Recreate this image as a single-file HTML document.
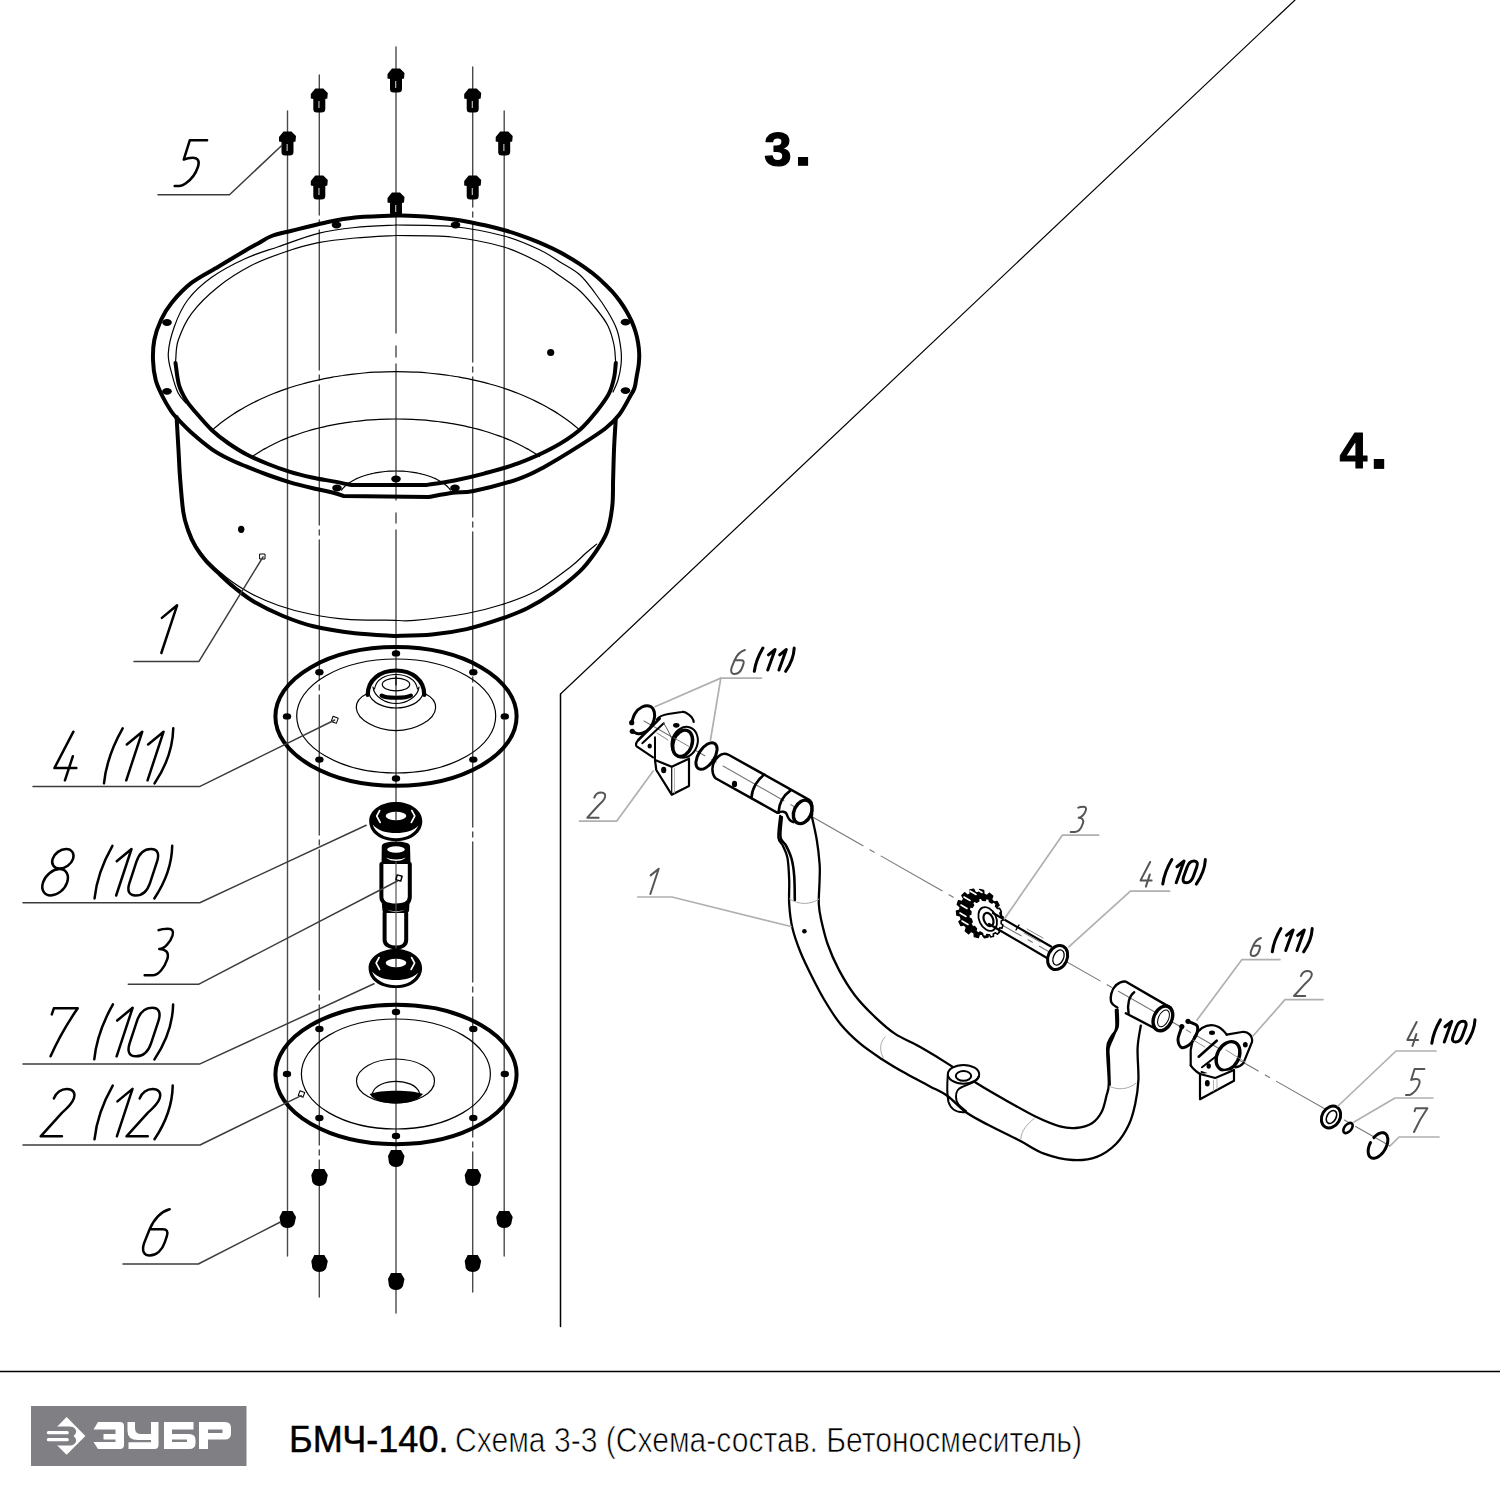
<!DOCTYPE html>
<html><head><meta charset="utf-8"><title>БМЧ-140</title>
<style>html,body{margin:0;padding:0;background:#fff;width:1500px;height:1500px;overflow:hidden}svg{display:block}text{font-family:"Liberation Sans",sans-serif}</style>
</head><body>
<svg width="1500" height="1500" viewBox="0 0 1500 1500" stroke-linejoin="round" stroke-linecap="round">
<rect width="1500" height="1500" fill="#fff"/>
<line x1="396" y1="47" x2="396" y2="333" stroke="#4a4a4a" stroke-width="1.4"/>
<line x1="396" y1="346" x2="396" y2="357" stroke="#4a4a4a" stroke-width="1.4"/>
<line x1="396" y1="364" x2="396" y2="500" stroke="#4a4a4a" stroke-width="1.4"/>
<line x1="396" y1="513" x2="396" y2="523" stroke="#4a4a4a" stroke-width="1.4"/>
<line x1="396" y1="530" x2="396" y2="1313" stroke="#4a4a4a" stroke-width="1.4"/>
<line x1="319.3" y1="75" x2="319.3" y2="1297" stroke="#4a4a4a" stroke-width="1.4" stroke-dasharray="140 5 5 5"/>
<line x1="472.7" y1="67" x2="472.7" y2="1295" stroke="#4a4a4a" stroke-width="1.4" stroke-dasharray="140 5 5 5"/>
<line x1="287.5" y1="111" x2="287.5" y2="1256" stroke="#4a4a4a" stroke-width="1.4"/>
<line x1="504.2" y1="111" x2="504.2" y2="1256" stroke="#4a4a4a" stroke-width="1.4"/>
<path d="M387.5,78.5 L387.5,74 L392,68.5 L400,68.5 L404.5,73 L404,78.5 L402,79 L402,89 Q402,92.5 398,92.5 L393.5,92.5 Q390,92.5 390,89 L390,79 Z" stroke="none" stroke-width="0" fill="#000"/>
<rect x="395" y="81" width="1.3" height="7" fill="#aaa"/>
<path d="M310.8,98.5 L310.8,94 L315.3,88.5 L323.3,88.5 L327.8,93 L327.3,98.5 L325.3,99 L325.3,109 Q325.3,112.5 321.3,112.5 L316.8,112.5 Q313.3,112.5 313.3,109 L313.3,99 Z" stroke="none" stroke-width="0" fill="#000"/>
<rect x="318.3" y="101" width="1.3" height="7" fill="#aaa"/>
<path d="M464.2,98.5 L464.2,94 L468.7,88.5 L476.7,88.5 L481.2,93 L480.7,98.5 L478.7,99 L478.7,109 Q478.7,112.5 474.7,112.5 L470.2,112.5 Q466.7,112.5 466.7,109 L466.7,99 Z" stroke="none" stroke-width="0" fill="#000"/>
<rect x="471.7" y="101" width="1.3" height="7" fill="#aaa"/>
<path d="M279,141.5 L279,137 L283.5,131.5 L291.5,131.5 L296,136 L295.5,141.5 L293.5,142 L293.5,152 Q293.5,155.5 289.5,155.5 L285,155.5 Q281.5,155.5 281.5,152 L281.5,142 Z" stroke="none" stroke-width="0" fill="#000"/>
<rect x="286.5" y="144" width="1.3" height="7" fill="#aaa"/>
<path d="M495.7,141.5 L495.7,137 L500.2,131.5 L508.2,131.5 L512.7,136 L512.2,141.5 L510.2,142 L510.2,152 Q510.2,155.5 506.2,155.5 L501.7,155.5 Q498.2,155.5 498.2,152 L498.2,142 Z" stroke="none" stroke-width="0" fill="#000"/>
<rect x="503.2" y="144" width="1.3" height="7" fill="#aaa"/>
<path d="M310.8,185.5 L310.8,181 L315.3,175.5 L323.3,175.5 L327.8,180 L327.3,185.5 L325.3,186 L325.3,196 Q325.3,199.5 321.3,199.5 L316.8,199.5 Q313.3,199.5 313.3,196 L313.3,186 Z" stroke="none" stroke-width="0" fill="#000"/>
<rect x="318.3" y="188" width="1.3" height="7" fill="#aaa"/>
<path d="M464.2,185.5 L464.2,181 L468.7,175.5 L476.7,175.5 L481.2,180 L480.7,185.5 L478.7,186 L478.7,196 Q478.7,199.5 474.7,199.5 L470.2,199.5 Q466.7,199.5 466.7,196 L466.7,186 Z" stroke="none" stroke-width="0" fill="#000"/>
<rect x="471.7" y="188" width="1.3" height="7" fill="#aaa"/>
<path d="M387.5,202.5 L387.5,198 L392,192.5 L400,192.5 L404.5,197 L404,202.5 L402,203 L402,213 Q402,216.5 398,216.5 L393.5,216.5 Q390,216.5 390,213 L390,203 Z" stroke="none" stroke-width="0" fill="#000"/>
<rect x="395" y="205" width="1.3" height="7" fill="#aaa"/>
<path d="M388,1156 L391,1150 L401,1150 L404.5,1156 L403,1163 Q401,1167 396,1167 Q391,1167 389,1163 Z" stroke="none" stroke-width="0" fill="#000"/>
<path d="M311.3,1175 L314.3,1169 L324.3,1169 L327.8,1175 L326.3,1182 Q324.3,1186 319.3,1186 Q314.3,1186 312.3,1182 Z" stroke="none" stroke-width="0" fill="#000"/>
<path d="M464.7,1175 L467.7,1169 L477.7,1169 L481.2,1175 L479.7,1182 Q477.7,1186 472.7,1186 Q467.7,1186 465.7,1182 Z" stroke="none" stroke-width="0" fill="#000"/>
<path d="M279.5,1217 L282.5,1211 L292.5,1211 L296,1217 L294.5,1224 Q292.5,1228 287.5,1228 Q282.5,1228 280.5,1224 Z" stroke="none" stroke-width="0" fill="#000"/>
<path d="M496.2,1217 L499.2,1211 L509.2,1211 L512.7,1217 L511.2,1224 Q509.2,1228 504.2,1228 Q499.2,1228 497.2,1224 Z" stroke="none" stroke-width="0" fill="#000"/>
<path d="M311.3,1261 L314.3,1255 L324.3,1255 L327.8,1261 L326.3,1268 Q324.3,1272 319.3,1272 Q314.3,1272 312.3,1268 Z" stroke="none" stroke-width="0" fill="#000"/>
<path d="M464.7,1261 L467.7,1255 L477.7,1255 L481.2,1261 L479.7,1268 Q477.7,1272 472.7,1272 Q467.7,1272 465.7,1268 Z" stroke="none" stroke-width="0" fill="#000"/>
<path d="M388,1279 L391,1273 L401,1273 L404.5,1279 L403,1286 Q401,1290 396,1290 Q391,1290 389,1286 Z" stroke="none" stroke-width="0" fill="#000"/>
<path d="M396,215.5C389.2,215.8 366.8,216.3 355,217.5C343.2,218.7 335.6,220.5 325,222.7C314.4,224.9 300.6,228.5 291.7,230.7C282.8,232.9 277.3,233.9 271.7,236C266.1,238.1 262.4,241.1 258,243.5C253.6,245.9 251.6,246.8 245,250.7C238.4,254.6 227.2,261.4 218.3,266.7C209.4,272 199.5,276.7 191.7,282.7C183.9,288.7 176.8,296.5 171.7,302.7C166.6,308.9 163.9,313.8 161,320C158.1,326.2 155.6,333.3 154.3,340C153,346.7 152.8,353.3 153,360C153.2,366.7 154.1,374 155.7,380C157.2,386 159.8,390.8 162.3,396C164.9,401.2 168.5,407.2 171,411C173.5,414.8 173.6,414.7 177.3,418.5C181,422.3 187.2,428.9 193,434C198.8,439.1 206,445.1 212,449.3C218,453.5 223.2,456.1 229,459C234.8,461.9 240.2,464 246.7,466.7C253.2,469.4 260.8,472.4 268,475C275.2,477.6 282.7,480.1 290,482.3C297.3,484.5 304.8,486.3 312,488C319.2,489.7 328,491.3 333.3,492.7C338.6,494.1 342,495.5 343.7,496.1 L428.5,497 C432.6,496.3 445.3,493.7 452.8,492.7C460.3,491.7 462.6,493.3 473.6,491C484.6,488.7 506.9,482.9 518.7,478.8C530.6,474.8 534.6,472.2 544.7,466.7C554.8,461.2 569.2,452.3 579.3,445.9C589.4,439.5 598.6,433.7 605.3,428.5C611.9,423.3 615.2,419.9 619.2,414.7C623.2,409.5 627.1,401.8 629.6,397.3C632.1,392.9 633.3,391.6 634.5,388C635.7,384.4 636.1,379.4 636.8,375.6C637.5,371.7 638.3,368.3 638.7,364.7C639.1,361.1 639.3,357.4 639.2,353.8C639.1,350.1 638.7,346.5 638.1,342.9C637.5,339.2 636.7,335.6 635.6,332C634.6,328.5 633.2,324.9 631.7,321.4C630.1,317.8 628.3,314.3 626.3,310.9C624.3,307.4 622,304 619.6,300.7C617.1,297.3 614.4,294.1 611.5,290.8C608.5,287.6 605.4,284.4 602,281.4C598.7,278.3 595.1,275.3 591.4,272.3C587.6,269.4 583.7,266.6 579.5,263.8C575.4,261.1 571.1,258.4 566.6,255.9C562.1,253.3 557.4,250.9 552.6,248.5C547.8,246.2 542.8,243.9 537.7,241.8C532.6,239.7 527.3,237.7 521.9,235.8C516.5,233.9 511,232.1 505.4,230.5C499.8,228.9 494,227.4 488.2,226C482.4,224.6 476.4,223.4 470.4,222.2C464.4,221.1 458.3,220.1 452.2,219.3C446.1,218.5 439.9,217.8 433.7,217.2C427.4,216.6 421.2,216.2 414.9,215.9C408.6,215.6 399.1,215.6 396,215.5" stroke="#000" stroke-width="4" fill="none"/>
<path d="M396,225C389.2,225.4 367.9,226.1 355,227.5C342.1,228.9 331.1,230.1 318.3,233.3C305.5,236.5 290.5,242.5 278.3,246.7C266.1,250.9 256.1,253.6 245,258.7C233.9,263.8 221.2,270.4 211.7,277.3C202.1,284.2 193.9,291.8 187.7,300C181.5,308.2 177.5,317.8 174.3,326.7C171.1,335.6 168.7,345.5 168.3,353.3C167.9,361.1 170,366.6 171.7,373.3C173.4,380 175.9,388.4 178.3,393.3C180.7,398.2 184.7,401.4 186,403" stroke="#000" stroke-width="1.2" fill="none"/>
<path d="M396,225C405.3,225.2 434,224.7 452,226.5C470,228.3 489.3,232.1 504,236C518.7,239.9 530.7,245.7 540,250C549.3,254.3 553.3,257.8 560,262C566.7,266.2 574.2,269.8 580,275C585.8,280.2 590.3,286.8 595,293C599.7,299.2 604.3,305.8 608,312C611.7,318.2 614.8,323.7 617,330C619.2,336.3 620.3,344.2 621,350C621.7,355.8 621.5,360 621,365C620.5,370 619.3,375.5 618,380C616.7,384.5 613.8,390 613,392" stroke="#000" stroke-width="1.2" fill="none"/>
<path d="M396,235.5C389.2,235.9 367.9,236.8 355,238C342.1,239.2 330,240.4 318.3,242.7C306.6,245 296.1,248.2 285,252C273.9,255.8 262.8,259.5 251.7,265.3C240.6,271.1 228.3,278.7 218.3,286.7C208.3,294.7 198.4,304.4 191.7,313.3C185,322.2 181,332.2 178.3,340C175.6,347.8 176.2,356.2 175.7,360C175.2,363.8 175.5,362.5 175.5,363" stroke="#000" stroke-width="1.2" fill="none"/>
<path d="M396,235.5C405.3,235.8 434,235.1 452,237C470,238.9 489.3,242.7 504,247C518.7,251.3 530.7,258.2 540,263C549.3,267.8 553.3,271.3 560,276C566.7,280.7 573.8,285.3 580,291C586.2,296.7 592.3,304.2 597,310C601.7,315.8 605.2,320.2 608,326C610.8,331.8 612.8,339.3 614,345C615.2,350.7 615.2,357 615.5,360C615.8,363 615.8,362.5 615.8,363" stroke="#000" stroke-width="1.2" fill="none"/>
<path d="M175.5,363C176.1,366.7 177.2,378.8 179,385C180.8,391.2 183.4,395.6 186,400C188.6,404.4 190.4,406.1 194.7,411.2C199,416.2 206.4,425 212,430.3C217.6,435.6 222.2,439 228,443C233.8,447 240,451 246.7,454.5C253.4,458 260.8,461.1 268,464C275.2,466.9 282.7,469.6 290,471.9C297.3,474.1 304.8,475.9 312,477.5C319.2,479.1 326.9,480.2 333.3,481.4C339.8,482.6 347.8,484.3 350.7,484.9 L426.8,484.9 C431.4,484.2 445,482.4 454.5,480.5C464,478.6 473.3,476.5 484,473.6C494.7,470.7 507.2,467.5 518.7,463.2C530.2,458.9 543.2,453.1 553.3,447.6C563.4,442.1 572.1,436.4 579.3,430.3C586.5,424.2 591.8,417.3 596.7,411.2C601.6,405.1 605.9,399.4 608.8,393.9C611.7,388.4 612.8,383.2 614,378C615.2,372.8 615.5,365.4 615.8,362.9" stroke="#000" stroke-width="4" fill="none"/>
<path d="M213.6,428.9C214.6,428 217.7,425.4 219.8,423.7C222,422 224.2,420.4 226.5,418.7C228.8,417.1 231.1,415.5 233.5,413.9C236,412.4 238.4,410.8 241,409.4C243.5,407.9 246.1,406.4 248.8,405C251.5,403.6 254.2,402.2 257,400.9C259.7,399.5 262.6,398.2 265.4,397C268.3,395.7 271.3,394.5 274.3,393.3C277.2,392.1 280.3,391 283.4,389.9C286.4,388.9 289.6,387.8 292.7,386.8C295.9,385.8 299.1,384.9 302.3,384C305.6,383.1 308.9,382.2 312.2,381.4C315.5,380.6 318.8,379.8 322.2,379.1C325.6,378.4 329,377.8 332.4,377.1C335.8,376.5 339.3,376 342.8,375.5C346.3,374.9 349.8,374.5 353.3,374.1C356.8,373.7 360.3,373.3 363.9,373C367.4,372.7 371,372.4 374.5,372.2C378.1,372 381.7,371.9 385.3,371.8C388.8,371.7 392.4,371.6 396,371.6C399.6,371.6 403.2,371.7 406.7,371.8C410.3,371.9 413.9,372 417.5,372.2C421,372.4 424.6,372.7 428.1,373C431.7,373.3 435.2,373.7 438.7,374.1C442.2,374.5 445.7,374.9 449.2,375.5C452.7,376 456.2,376.5 459.6,377.1C463,377.8 466.4,378.4 469.8,379.1C473.2,379.8 476.5,380.6 479.8,381.4C483.1,382.2 486.4,383.1 489.7,384C492.9,384.9 496.1,385.8 499.3,386.8C502.4,387.8 505.6,388.9 508.6,389.9C511.7,391 514.8,392.1 517.7,393.3C520.7,394.5 523.7,395.7 526.6,397C529.4,398.2 532.3,399.5 535,400.9C537.8,402.2 540.5,403.6 543.2,405C545.9,406.4 548.5,407.9 551,409.4C553.6,410.8 556,412.4 558.5,413.9C560.9,415.5 563.2,417.1 565.5,418.7C567.8,420.4 570,422 572.2,423.7C574.3,425.4 577.4,428 578.4,428.9" stroke="#000" stroke-width="1.2" fill="none"/>
<path d="M252.6,456.5C253.5,456 255.9,454.2 257.6,453.1C259.3,452 261.1,450.9 262.9,449.8C264.7,448.8 266.6,447.7 268.5,446.7C270.5,445.7 272.4,444.7 274.4,443.7C276.4,442.7 278.5,441.8 280.6,440.8C282.7,439.9 284.9,439 287.1,438.1C289.3,437.3 291.5,436.4 293.8,435.6C296,434.8 298.3,434 300.7,433.2C303,432.4 305.4,431.7 307.8,431C310.3,430.3 312.7,429.6 315.2,428.9C317.7,428.3 320.2,427.7 322.7,427.1C325.3,426.5 327.8,425.9 330.4,425.4C333,424.9 335.7,424.4 338.3,423.9C340.9,423.5 343.6,423 346.3,422.6C349,422.2 351.7,421.9 354.4,421.5C357.1,421.2 359.9,420.9 362.6,420.6C365.4,420.3 368.1,420.1 370.9,419.9C373.7,419.7 376.4,419.5 379.2,419.4C382,419.3 384.8,419.2 387.6,419.1C390.4,419 393.2,419 396,419C398.8,419 401.6,419 404.4,419.1C407.2,419.2 410,419.3 412.8,419.4C415.6,419.5 418.3,419.7 421.1,419.9C423.9,420.1 426.6,420.3 429.4,420.6C432.1,420.9 434.9,421.2 437.6,421.5C440.3,421.9 443,422.2 445.7,422.6C448.4,423 451.1,423.5 453.7,423.9C456.3,424.4 459,424.9 461.6,425.4C464.2,425.9 466.7,426.5 469.3,427.1C471.8,427.7 474.3,428.3 476.8,428.9C479.3,429.6 481.7,430.3 484.2,431C486.6,431.7 489,432.4 491.3,433.2C493.7,434 496,434.8 498.2,435.6C500.5,436.4 502.7,437.3 504.9,438.1C507.1,439 509.3,439.9 511.4,440.8C513.5,441.8 515.6,442.7 517.6,443.7C519.6,444.7 521.5,445.7 523.5,446.7C525.4,447.7 527.3,448.8 529.1,449.8C530.9,450.9 532.7,452 534.4,453.1C536.1,454.2 538.5,456 539.4,456.5" stroke="#000" stroke-width="1.2" fill="none"/>
<path d="M341.5,490.1C341.7,489.8 342.3,489 342.8,488.4C343.3,487.9 343.8,487.4 344.3,486.8C344.9,486.3 345.4,485.8 346,485.3C346.6,484.8 347.3,484.3 347.9,483.8C348.6,483.3 349.3,482.8 350,482.3C350.7,481.9 351.5,481.4 352.2,481C353,480.5 353.8,480.1 354.6,479.7C355.5,479.3 356.3,478.8 357.2,478.4C358.1,478.1 359,477.7 359.9,477.3C360.8,476.9 361.8,476.6 362.7,476.2C363.7,475.9 364.7,475.6 365.7,475.3C366.7,475 367.7,474.7 368.8,474.4C369.8,474.1 370.9,473.9 371.9,473.6C373,473.4 374.1,473.1 375.2,472.9C376.3,472.7 377.4,472.5 378.6,472.3C379.7,472.2 380.8,472 382,471.9C383.1,471.7 384.3,471.6 385.4,471.5C386.6,471.4 387.8,471.3 388.9,471.2C390.1,471.1 391.3,471.1 392.5,471.1C393.6,471 394.8,471 396,471C397.2,471 398.4,471 399.5,471.1C400.7,471.1 401.9,471.1 403.1,471.2C404.2,471.3 405.4,471.4 406.6,471.5C407.7,471.6 408.9,471.7 410,471.9C411.2,472 412.3,472.2 413.4,472.3C414.6,472.5 415.7,472.7 416.8,472.9C417.9,473.1 419,473.4 420.1,473.6C421.1,473.9 422.2,474.1 423.2,474.4C424.3,474.7 425.3,475 426.3,475.3C427.3,475.6 428.3,475.9 429.3,476.2C430.2,476.6 431.2,476.9 432.1,477.3C433,477.7 433.9,478.1 434.8,478.4C435.7,478.8 436.5,479.3 437.4,479.7C438.2,480.1 439,480.5 439.8,481C440.5,481.4 441.3,481.9 442,482.3C442.7,482.8 443.4,483.3 444.1,483.8C444.7,484.3 445.4,484.8 446,485.3C446.6,485.8 447.1,486.3 447.7,486.8C448.2,487.4 448.7,487.9 449.2,488.4C449.7,489 450.3,489.8 450.5,490.1" stroke="#000" stroke-width="1.2" fill="none"/>
<path d="M176.6,417C176.9,422.5 177.9,440 178.5,450C179.1,460 179.2,466.7 180,477C180.8,487.3 182,503.2 183.3,512C184.6,520.8 186,524.2 188,530C190,535.8 192.5,541.4 195.5,546.6C198.5,551.8 202,556.4 206,561C210,565.6 214.9,569.8 219.7,574.3C224.5,578.8 229.2,583.4 235,588C240.8,592.6 246.4,597.3 254.4,602C262.4,606.7 273.2,612 283,616C292.8,620 301.3,623.4 313.3,626.3C325.3,629.2 341.1,631.7 354.9,633.3C368.7,634.9 389.1,635.5 396,636 C402,635.8 420.2,635.6 432,634.5C443.8,633.4 455.1,631.7 466.7,629.1C478.2,626.5 491.2,622.2 501.3,618.7C511.4,615.2 518.6,612.6 527.3,608.3C536,604 544.6,598.8 553.3,592.7C562,586.6 572.3,578.5 579.3,571.9C586.2,565.2 590.4,559.4 595,552.8C599.6,546.1 604.1,539.8 607,532C609.9,524.2 611.3,514.7 612.3,506C613.3,497.3 612.8,489.3 613.1,480C613.4,470.7 613.6,460 614,450C614.4,440 615.4,424.9 615.7,419.9" stroke="#000" stroke-width="4" fill="none"/>
<path d="M192,539.7C194.5,543.1 201.2,553.6 207,560C212.8,566.4 219.5,572.3 226.7,577.8C233.9,583.3 241.3,588.4 250,593C258.6,597.6 268.6,602 278.6,605.5C288.6,609 298.4,611.7 310,614C321.6,616.3 333.7,618.4 348,619.4C362.3,620.4 388,620.1 396,620.3 C399.1,620.3 402.9,621.5 414.7,620.4C426.5,619.3 452.3,616.1 466.7,613.5C481.1,610.9 489.8,608.5 501.3,604.8C512.9,601 524.4,597.4 536,591C547.6,584.6 562.4,573 570.7,566.7C579,560.4 581.7,556.8 586,553C590.3,549.2 594.9,545.6 596.7,544.1" stroke="#000" stroke-width="1.2" fill="none"/>
<ellipse cx="336.5" cy="225" rx="4.8" ry="3.4" stroke="none" stroke-width="0" fill="#000"/>
<ellipse cx="455.5" cy="225" rx="4.8" ry="3.4" stroke="none" stroke-width="0" fill="#000"/>
<ellipse cx="167" cy="322.5" rx="4.8" ry="3.4" stroke="none" stroke-width="0" fill="#000"/>
<ellipse cx="625.5" cy="322.2" rx="4.8" ry="3.4" stroke="none" stroke-width="0" fill="#000"/>
<ellipse cx="167" cy="391.3" rx="4.8" ry="3.4" stroke="none" stroke-width="0" fill="#000"/>
<ellipse cx="625.5" cy="390.6" rx="4.8" ry="3.4" stroke="none" stroke-width="0" fill="#000"/>
<ellipse cx="337" cy="488" rx="4.8" ry="3.4" stroke="none" stroke-width="0" fill="#000"/>
<ellipse cx="455" cy="488" rx="4.8" ry="3.4" stroke="none" stroke-width="0" fill="#000"/>
<ellipse cx="396" cy="479" rx="4.8" ry="3.4" stroke="none" stroke-width="0" fill="#000"/>
<ellipse cx="550.7" cy="352.5" rx="3.6" ry="3.6" stroke="none" stroke-width="0" fill="#000"/>
<ellipse cx="241.2" cy="529.3" rx="3.2" ry="3.6" stroke="none" stroke-width="0" fill="#000"/>
<rect x="260" y="554" width="5" height="5" fill="none" stroke="#000" stroke-width="1"/>
<ellipse cx="396" cy="716.4" rx="120.6" ry="69.3" stroke="#000" stroke-width="4" fill="none"/>
<ellipse cx="396.2" cy="716" rx="99.5" ry="57" stroke="#000" stroke-width="1.2" fill="none"/>
<ellipse cx="396" cy="653.4" rx="4.2" ry="3.2" stroke="none" stroke-width="0" fill="#000"/>
<ellipse cx="319.4" cy="672.3" rx="4.2" ry="3.2" stroke="none" stroke-width="0" fill="#000"/>
<ellipse cx="473.3" cy="672.3" rx="4.2" ry="3.2" stroke="none" stroke-width="0" fill="#000"/>
<ellipse cx="287" cy="716.4" rx="4.2" ry="3.2" stroke="none" stroke-width="0" fill="#000"/>
<ellipse cx="504.8" cy="716.4" rx="4.2" ry="3.2" stroke="none" stroke-width="0" fill="#000"/>
<ellipse cx="319.4" cy="759.6" rx="4.2" ry="3.2" stroke="none" stroke-width="0" fill="#000"/>
<ellipse cx="473.3" cy="759.6" rx="4.2" ry="3.2" stroke="none" stroke-width="0" fill="#000"/>
<ellipse cx="396" cy="778.5" rx="4.2" ry="3.2" stroke="none" stroke-width="0" fill="#000"/>
<path d="M367.7,693.3 C360,697 356,702 356.3,708 C357,720 377,730.7 396,730.7 C415,730.7 435,720 435.6,708 C436,702 432,697 424.3,693.3" stroke="#000" stroke-width="1.2" fill="none"/>
<path d="M369,694 C372,703 384,708 396,708 C408,708 420,703 423,694" stroke="#000" stroke-width="1.2" fill="none"/>
<path d="M373,687 C374,697 386,703.5 396,703.5 C406,703.5 418,697 419,687" stroke="#000" stroke-width="1.2" fill="none"/>
<path d="M374.5,689 C376,679 386,674.5 396,674.5 C406,674.5 416,679 417.5,689" stroke="#000" stroke-width="1.2" fill="none"/>
<ellipse cx="396" cy="684.5" rx="13.7" ry="6.3" stroke="#000" stroke-width="1.2" fill="none"/>
<path d="M367.7,695 C367.7,680 380,670.5 396,670.5 C412,670.5 424.3,680 424.3,695" stroke="#000" stroke-width="4.2" fill="none"/>
<path d="M381.5,695.5 C386,698.5 406,698.5 411,695.5" stroke="#000" stroke-width="4" fill="none"/>
<line x1="396" y1="676" x2="396" y2="685" stroke="#000" stroke-width="1.2"/>
<rect x="332" y="717" width="5.5" height="5.5" fill="none" stroke="#000" stroke-width="1" transform="rotate(20 334.7 719.7)"/>
<path d="M369.2,821 C369.2,810 381.2,802 396,802 C410,802 422.3,810 422.3,821 C422.3,827 419.3,832 415.3,835 C410.3,839 404,841 396,841 C388,841 381.2,839 376.2,835 C372.2,832 369.2,827 369.2,821 Z" stroke="none" stroke-width="0" fill="#000"/>
<path d="M372.7,824.5 C378.2,831 386,833 396,833 C406,833 413.3,831 418.3,825.5 C415.3,833 407,838.3 396,838.3 C385,838.3 375.2,833 372.7,824.5 Z" stroke="none" stroke-width="0" fill="#fff"/>
<ellipse cx="396" cy="816" rx="10.3" ry="4.2" stroke="none" stroke-width="0" fill="#fff"/>
<path d="M379.7,810.5 L376.7,816 L380.2,822.5" stroke="#fff" stroke-width="1.6" fill="none"/>
<path d="M411.8,810.5 L414.8,816 L411.3,822.5" stroke="#fff" stroke-width="1.6" fill="none"/>
<line x1="396" y1="812" x2="396" y2="820" stroke="#000" stroke-width="1"/>
<path d="M381.8,846 C381.8,843 388,841.5 396,841.5 C404,841.5 410,843 410,846 L410.5,864 C410.5,867 404,868 396,868 C388,868 381.5,867 381.5,864 Z" stroke="none" stroke-width="0" fill="#000"/>
<ellipse cx="396" cy="849.5" rx="8.8" ry="3.2" stroke="none" stroke-width="0" fill="#fff"/>
<path d="M386.5,857.5 C390,860 402,860 405.5,857.5 C403,862 389,862 386.5,857.5 Z" stroke="none" stroke-width="0" fill="#fff"/>
<path d="M381.4,864 L381.4,897 C381.4,903 388,905.5 396,905.5 C404,905.5 409.8,903 409.8,897 L409.8,864" stroke="#000" stroke-width="4" fill="#fff"/>
<path d="M381.8,903 L382.5,911 C383,913.5 389,914.5 396,914.5 C403,914.5 408.5,913.5 409,911 L409.5,903 C405,907 387,907 381.8,903 Z" stroke="none" stroke-width="0" fill="#000"/>
<path d="M387,909.5 C391,911.5 401,911.5 405,909.5 C401,912.5 391,912.5 387,909.5 Z" stroke="none" stroke-width="0" fill="#fff"/>
<path d="M384.6,913 L384.6,940 C384.6,945 390,947.5 396,947.5 C402,947.5 406.2,945 406.2,940 L406.2,913" stroke="#000" stroke-width="4" fill="#fff"/>
<line x1="396" y1="862" x2="396" y2="948" stroke="#555" stroke-width="1.2"/>
<rect x="396.5" y="875.5" width="5" height="5" fill="none" stroke="#000" stroke-width="1.5" transform="rotate(15 399 878)"/>
<path d="M368.6,968 C368.6,957 380.6,949 396,949 C410,949 422.1,957 422.1,968 C422.1,974 419.1,979 415.1,982 C410.1,986 404,988 396,988 C388,988 380.6,986 375.6,982 C371.6,979 368.6,974 368.6,968 Z" stroke="none" stroke-width="0" fill="#000"/>
<path d="M372.1,971.5 C377.6,978 386,980 396,980 C406,980 413.1,978 418.1,972.5 C415.1,980 407,985.3 396,985.3 C385,985.3 374.6,980 372.1,971.5 Z" stroke="none" stroke-width="0" fill="#fff"/>
<ellipse cx="396" cy="963" rx="10.3" ry="4.2" stroke="none" stroke-width="0" fill="#fff"/>
<path d="M379.1,957.5 L376.1,963 L379.6,969.5" stroke="#fff" stroke-width="1.6" fill="none"/>
<path d="M411.6,957.5 L414.6,963 L411.1,969.5" stroke="#fff" stroke-width="1.6" fill="none"/>
<line x1="396" y1="959" x2="396" y2="967" stroke="#000" stroke-width="1"/>
<ellipse cx="396" cy="1074.5" rx="120.6" ry="69.7" stroke="#000" stroke-width="4" fill="none"/>
<ellipse cx="395.9" cy="1074" rx="94.5" ry="55" stroke="#000" stroke-width="1.2" fill="none"/>
<ellipse cx="396" cy="1012" rx="4.2" ry="3.2" stroke="none" stroke-width="0" fill="#000"/>
<ellipse cx="319.4" cy="1029" rx="4.2" ry="3.2" stroke="none" stroke-width="0" fill="#000"/>
<ellipse cx="473.3" cy="1029" rx="4.2" ry="3.2" stroke="none" stroke-width="0" fill="#000"/>
<ellipse cx="287" cy="1074" rx="4.2" ry="3.2" stroke="none" stroke-width="0" fill="#000"/>
<ellipse cx="504.8" cy="1074" rx="4.2" ry="3.2" stroke="none" stroke-width="0" fill="#000"/>
<ellipse cx="319.4" cy="1118" rx="4.2" ry="3.2" stroke="none" stroke-width="0" fill="#000"/>
<ellipse cx="473.3" cy="1118" rx="4.2" ry="3.2" stroke="none" stroke-width="0" fill="#000"/>
<ellipse cx="396" cy="1136" rx="4.2" ry="3.2" stroke="none" stroke-width="0" fill="#000"/>
<ellipse cx="395.5" cy="1081" rx="39" ry="22" stroke="#000" stroke-width="1.2" fill="none"/>
<path d="M372.3,1093.3 C375,1085 386,1081.3 396,1081.3 C406,1081.3 417,1085 419.5,1093" stroke="#000" stroke-width="1.2" fill="none"/>
<path d="M369.7,1094 C380,1089.5 412,1089.5 423,1094 L420,1097 C414,1102 404,1103.5 396,1103.5 C388,1103.5 378,1102 372,1097 Z" stroke="none" stroke-width="0" fill="#000"/>
<rect x="299" y="1091.5" width="5" height="5" fill="none" stroke="#000" stroke-width="1" transform="rotate(20 301.5 1094)"/>
<path d="M158,194.7 L229.5,194.7 L282,145.3" stroke="#3c3c3c" stroke-width="1.5" fill="none"/>
<path d="M134,661.6 L198.8,661.6 L263,557" stroke="#3c3c3c" stroke-width="1.5" fill="none"/>
<path d="M33,786.4 L200,786.4 L334.7,720" stroke="#3c3c3c" stroke-width="1.5" fill="none"/>
<path d="M23,902.7 L199.8,902.7 L366.2,825.2" stroke="#3c3c3c" stroke-width="1.5" fill="none"/>
<path d="M128.3,984.3 L198.5,984.3 L397.4,881" stroke="#3c3c3c" stroke-width="1.5" fill="none"/>
<path d="M23,1063.9 L200,1063.9 L374,983.8" stroke="#3c3c3c" stroke-width="1.5" fill="none"/>
<path d="M23,1145 L200,1145 L301.2,1095.6" stroke="#3c3c3c" stroke-width="1.5" fill="none"/>
<path d="M123,1264 L198.3,1264 L280.4,1222" stroke="#3c3c3c" stroke-width="1.5" fill="none"/>
<path d="M18,0 L0,0 L0.3,20 C3,18.7 6,18.2 9,18.2 C14.5,18.2 17.6,21.5 17.6,27.5 C17.6,35.5 15,41 10.5,45 C9,46.5 7,47.5 5,47.5 L0,47.5" transform="matrix(0.9621 0 -0.3175 0.9621 189.78 140.30)" stroke="#000" stroke-width="2.5" fill="none" stroke-linecap="round" stroke-linejoin="round" vector-effect="non-scaling-stroke"/>
<path d="M0,12.5 L11,0 L11,47.5" transform="matrix(1.0042 0 -0.3314 1.0042 166.04 605.30)" stroke="#000" stroke-width="2.5" fill="none" stroke-linecap="round" stroke-linejoin="round" vector-effect="non-scaling-stroke"/>
<path d="M6.8,0 L0,35.5 L21.4,35.5 M14.2,24 L14.2,47.5" transform="matrix(1.0232 0 -0.3376 1.0232 66.44 731.70)" stroke="#000" stroke-width="2.5" fill="none" stroke-linecap="round" stroke-linejoin="round" vector-effect="non-scaling-stroke"/>
<path d="M0,-3.3 Q-6.5,24 -0.5,50.5" transform="matrix(1.0232 0 -0.3376 1.0232 121.54 731.70)" stroke="#000" stroke-width="2.5" fill="none" stroke-linecap="round" stroke-linejoin="round" vector-effect="non-scaling-stroke"/>
<path d="M0,12.5 L11,0 L11,47.5" transform="matrix(1.0232 0 -0.3376 1.0232 131.04 731.70)" stroke="#000" stroke-width="2.5" fill="none" stroke-linecap="round" stroke-linejoin="round" vector-effect="non-scaling-stroke"/>
<path d="M0,12.5 L11,0 L11,47.5" transform="matrix(1.0232 0 -0.3376 1.0232 152.34 731.70)" stroke="#000" stroke-width="2.5" fill="none" stroke-linecap="round" stroke-linejoin="round" vector-effect="non-scaling-stroke"/>
<path d="M0,-3.3 Q8.5,24 -0.5,50.5" transform="matrix(1.0232 0 -0.3376 1.0232 172.14 731.70)" stroke="#000" stroke-width="2.5" fill="none" stroke-linecap="round" stroke-linejoin="round" vector-effect="non-scaling-stroke"/>
<path d="M12.3,0 C18,0 22.7,4.5 22.7,10 C22.7,15.5 18,20 12.3,20 C6.6,20 1.9,15.5 1.9,10 C1.9,4.5 6.6,0 12.3,0 Z M12.3,20.5 C19,20.5 24.6,26.5 24.6,34 C24.6,41.5 19,47.5 12.3,47.5 C5.6,47.5 0,41.5 0,34 C0,26.5 5.6,20.5 12.3,20.5 Z" transform="matrix(0.9789 0 -0.3231 0.9789 54.05 849.00)" stroke="#000" stroke-width="2.5" fill="none" stroke-linecap="round" stroke-linejoin="round" vector-effect="non-scaling-stroke"/>
<path d="M0,-3.3 Q-6.5,24 -0.5,50.5" transform="matrix(0.9789 0 -0.3231 0.9789 111.34 849.00)" stroke="#000" stroke-width="2.5" fill="none" stroke-linecap="round" stroke-linejoin="round" vector-effect="non-scaling-stroke"/>
<path d="M0,12.5 L11,0 L11,47.5" transform="matrix(0.9789 0 -0.3231 0.9789 120.75 849.00)" stroke="#000" stroke-width="2.5" fill="none" stroke-linecap="round" stroke-linejoin="round" vector-effect="non-scaling-stroke"/>
<path d="M10.5,0 C17.5,0 21,5 21,13 L21,34.5 C21,42.5 17.5,47.5 10.5,47.5 C3.5,47.5 0,42.5 0,34.5 L0,13 C0,5 3.5,0 10.5,0 Z" transform="matrix(0.9789 0 -0.3231 0.9789 140.65 849.00)" stroke="#000" stroke-width="2.5" fill="none" stroke-linecap="round" stroke-linejoin="round" vector-effect="non-scaling-stroke"/>
<path d="M0,-3.3 Q8.5,24 -0.5,50.5" transform="matrix(0.9789 0 -0.3231 0.9789 171.15 849.00)" stroke="#000" stroke-width="2.5" fill="none" stroke-linecap="round" stroke-linejoin="round" vector-effect="non-scaling-stroke"/>
<path d="M0,1.5 C2,0.5 5,0 8.9,0 C13.5,0 16,2.5 16,7 C16,14 12,20.6 7,20.6 C13,20.6 18.6,24 18.6,31 C18.6,40 15,47.5 9,47.5 L1,47.5" transform="matrix(0.9811 0 -0.3237 0.9811 159.08 928.70)" stroke="#000" stroke-width="2.5" fill="none" stroke-linecap="round" stroke-linejoin="round" vector-effect="non-scaling-stroke"/>
<path d="M0.3,6.5 L0.3,0.5 L23.7,0.5 C18,16 14.5,31 12.6,47.5" transform="matrix(1.0211 0 -0.3369 1.0211 53.70 1007.80)" stroke="#000" stroke-width="2.5" fill="none" stroke-linecap="round" stroke-linejoin="round" vector-effect="non-scaling-stroke"/>
<path d="M0,-3.3 Q-6.5,24 -0.5,50.5" transform="matrix(1.0211 0 -0.3369 1.0211 111.80 1007.80)" stroke="#000" stroke-width="2.5" fill="none" stroke-linecap="round" stroke-linejoin="round" vector-effect="non-scaling-stroke"/>
<path d="M0,12.5 L11,0 L11,47.5" transform="matrix(1.0211 0 -0.3369 1.0211 121.41 1007.80)" stroke="#000" stroke-width="2.5" fill="none" stroke-linecap="round" stroke-linejoin="round" vector-effect="non-scaling-stroke"/>
<path d="M10.5,0 C17.5,0 21,5 21,13 L21,34.5 C21,42.5 17.5,47.5 10.5,47.5 C3.5,47.5 0,42.5 0,34.5 L0,13 C0,5 3.5,0 10.5,0 Z" transform="matrix(1.0211 0 -0.3369 1.0211 141.31 1007.80)" stroke="#000" stroke-width="2.5" fill="none" stroke-linecap="round" stroke-linejoin="round" vector-effect="non-scaling-stroke"/>
<path d="M0,-3.3 Q8.5,24 -0.5,50.5" transform="matrix(1.0211 0 -0.3369 1.0211 172.00 1007.80)" stroke="#000" stroke-width="2.5" fill="none" stroke-linecap="round" stroke-linejoin="round" vector-effect="non-scaling-stroke"/>
<path d="M0.7,9.6 C0.7,3.5 5,0 10.5,0 C16.5,0 20.7,3.8 20.7,9.5 C20.7,14.5 18,18.5 13.5,24 L0,47.5 L21.3,47.5" transform="matrix(0.9979 0 -0.3293 0.9979 56.34 1088.90)" stroke="#000" stroke-width="2.5" fill="none" stroke-linecap="round" stroke-linejoin="round" vector-effect="non-scaling-stroke"/>
<path d="M0,-3.3 Q-6.5,24 -0.5,50.5" transform="matrix(0.9979 0 -0.3293 0.9979 111.64 1088.90)" stroke="#000" stroke-width="2.5" fill="none" stroke-linecap="round" stroke-linejoin="round" vector-effect="non-scaling-stroke"/>
<path d="M0,12.5 L11,0 L11,47.5" transform="matrix(0.9979 0 -0.3293 0.9979 121.54 1088.90)" stroke="#000" stroke-width="2.5" fill="none" stroke-linecap="round" stroke-linejoin="round" vector-effect="non-scaling-stroke"/>
<path d="M0.7,9.6 C0.7,3.5 5,0 10.5,0 C16.5,0 20.7,3.8 20.7,9.5 C20.7,14.5 18,18.5 13.5,24 L0,47.5 L21.3,47.5" transform="matrix(0.9979 0 -0.3293 0.9979 142.14 1088.90)" stroke="#000" stroke-width="2.5" fill="none" stroke-linecap="round" stroke-linejoin="round" vector-effect="non-scaling-stroke"/>
<path d="M0,-3.3 Q8.5,24 -0.5,50.5" transform="matrix(0.9979 0 -0.3293 0.9979 171.64 1088.90)" stroke="#000" stroke-width="2.5" fill="none" stroke-linecap="round" stroke-linejoin="round" vector-effect="non-scaling-stroke"/>
<path d="M14.8,0 C8,2 2.5,8 1,20.5 L0,34.5 C0,43 4,47.5 10,47.5 C17,47.5 21,42 21,34 L21,27.5 C21,22.5 18.5,20.5 14.7,20.5 L2.5,20.5" transform="matrix(0.9726 0 -0.3210 0.9726 155.25 1209.30)" stroke="#000" stroke-width="2.5" fill="none" stroke-linecap="round" stroke-linejoin="round" vector-effect="non-scaling-stroke"/>
<line x1="1295" y1="0" x2="560.5" y2="694" stroke="#000" stroke-width="1.2"/>
<line x1="560.5" y1="694" x2="560.5" y2="1326.5" stroke="#000" stroke-width="1.5"/>
<line x1="0" y1="1371.5" x2="1500" y2="1371.5" stroke="#000" stroke-width="1.6"/>
<text x="764.3" y="165.8" font-family="Liberation Sans" font-weight="bold" font-size="49" fill="#000" stroke="#000" stroke-width="1.2">3</text>
<rect x="798" y="157" width="10.1" height="8.8" fill="#000"/>
<text x="1339.6" y="468.3" font-family="Liberation Sans" font-weight="bold" font-size="50" fill="#000" stroke="#000" stroke-width="1.0">4</text>
<rect x="1373.8" y="459" width="10.4" height="9.9" fill="#000"/>
<line x1="644" y1="721" x2="1390" y2="1146" stroke="#777" stroke-width="1.1" stroke-dasharray="70 8 5 8"/>
<path d="M631.7,722.7C632.2,721.2 633.3,716.1 635,713.5C636.7,710.9 639.5,708.2 642,707C644.5,705.8 648.2,705.5 650.3,706.3C652.3,707.1 653.7,709.7 654.3,712C654.9,714.3 654.7,717.3 654,720C653.3,722.7 651.8,725.8 650,728C648.2,730.2 645.2,732.1 643,733C640.8,733.9 638.8,733.8 637,733.5C635.2,733.2 633.1,731.7 632.3,731.3" stroke="#000" stroke-width="3" fill="none"/>
<ellipse cx="631.7" cy="722.7" rx="2.6" ry="2.6" stroke="none" stroke-width="0" fill="#000"/>
<ellipse cx="632.3" cy="731.3" rx="2.6" ry="2.6" stroke="none" stroke-width="0" fill="#000"/>
<path d="M657,719.3 C659,716.5 662,715 668.3,714 L681.7,712 C684,711.6 687,712.5 691.7,717.3 C693,719 693.7,721 693.7,722" stroke="#000" stroke-width="2.2" fill="none"/>
<path d="M638.3,740 L659.7,718.7" stroke="#000" stroke-width="2.6" fill="none"/>
<path d="M642.3,743.3 L663.7,723.3" stroke="#000" stroke-width="2" fill="none"/>
<path d="M638.3,740 C635.5,743 635.5,746 637,746.7 L653,757.3" stroke="#000" stroke-width="2.2" fill="none"/>
<path d="M655,737.3 L655,761.3" stroke="#000" stroke-width="2" fill="none"/>
<path d="M663.7,723.3 C667,728 671,736 673,742" stroke="#555" stroke-width="1" fill="none"/>
<ellipse cx="684.7" cy="742.3" rx="12.8" ry="15.7" stroke="#000" stroke-width="2" fill="#fff" transform="rotate(20 684.7 742.3)"/>
<ellipse cx="682.6" cy="743.3" rx="9.4" ry="13.6" stroke="#000" stroke-width="3.4" fill="#fff" transform="rotate(20 682.6 743.3)"/>
<line x1="674" y1="738" x2="690" y2="747" stroke="#777" stroke-width="0.9"/>
<path d="M655,760 L656.3,770 L671.7,794.7 L689,786 L689,758.7" stroke="#000" stroke-width="2.2" fill="#fff"/>
<path d="M655,760 L671.7,766.7 L689,758.7" stroke="#000" stroke-width="2.2" fill="none"/>
<line x1="671.7" y1="766.7" x2="671.7" y2="794.7" stroke="#000" stroke-width="1.2"/>
<line x1="674.5" y1="768" x2="674.5" y2="793" stroke="#aaa" stroke-width="0.9"/>
<ellipse cx="676.3" cy="725.3" rx="3.2" ry="2.4" stroke="none" stroke-width="0" fill="#000"/>
<ellipse cx="649.7" cy="746" rx="2.2" ry="2.6" stroke="none" stroke-width="0" fill="#000"/>
<ellipse cx="663.7" cy="770" rx="2.6" ry="3.2" stroke="none" stroke-width="0" fill="#000"/>
<line x1="657" y1="733" x2="668" y2="740" stroke="#777" stroke-width="0.9"/>
<ellipse cx="706.5" cy="756" rx="8" ry="15" stroke="#000" stroke-width="3" fill="none" transform="rotate(33 706.5 756)"/>
<path d="M807.4,798.8 L729,755 C726,753.5 722,753 719,756 C714,760 712,766 712.5,771 C713,775 714,777 716,778.5 L777.5,812.8" stroke="#000" stroke-width="2.5" fill="none"/>
<path d="M764.4,774.5 C758,779 752,788 751.4,797.9" stroke="#000" stroke-width="2.6" fill="none"/>
<path d="M790.6,790.4 C784,795 779,803 778.4,812.8" stroke="#000" stroke-width="2.6" fill="none"/>
<path d="M778.4,812.8 C781,811 786,811 787,815 C788,818 790,821 793.4,822.2" stroke="#000" stroke-width="2.4" fill="none"/>
<ellipse cx="802.7" cy="811.9" rx="8.6" ry="12.3" stroke="#000" stroke-width="3.4" fill="#fff" transform="rotate(25 802.7 811.9)"/>
<path d="M806,799.5 C809,799 811.5,801 812,805 L812,815" stroke="#000" stroke-width="2.6" fill="none"/>
<ellipse cx="734.5" cy="783.9" rx="2.6" ry="3.2" stroke="none" stroke-width="0" fill="#000"/>
<path d="M780.2,816C779.9,819.6 777.9,832.6 778.4,837.6C778.9,842.6 781.5,842.6 783,846C784.5,849.4 786.5,852.3 787.5,858C788.5,863.7 788.9,872.3 789.2,880C789.5,887.7 788.7,896 789.2,904C789.7,912 790.5,920 792.4,928C794.3,936 797.2,944 800.4,952C803.6,960 807.6,968 811.6,976C815.6,984 819.6,992 824.4,1000C829.2,1008 834.5,1016.8 840.4,1024C846.3,1031.2 852.7,1037.3 859.6,1043.2C866.5,1049.1 874.3,1054.1 882,1059.2C889.7,1064.3 898,1069.1 906,1073.6C914,1078.1 923.1,1082.7 930,1086.4C936.9,1090.1 941.7,1091.7 947.6,1096C953.5,1100.3 958.9,1107.2 965.6,1112C972.3,1116.8 978.9,1120 988,1124.8C997.1,1129.6 1010.7,1136 1020,1140.8C1029.3,1145.6 1035.2,1150.4 1044,1153.6C1052.8,1156.8 1064,1159.5 1072.8,1160C1081.6,1160.5 1089.6,1159.5 1096.8,1156.8C1104,1154.1 1110.7,1149.3 1116,1144C1121.3,1138.7 1125.6,1131.5 1128.8,1124.8C1132,1118.1 1133.6,1111.5 1135.2,1104C1136.8,1096.5 1138,1089.3 1138.4,1080C1138.8,1070.7 1137.2,1057.1 1137.6,1048C1138,1038.9 1140.3,1029.3 1140.8,1025.6" stroke="#000" stroke-width="2.3" fill="none"/>
<path d="M812,817.2C812.8,821 815.5,832.2 816.8,840C818.1,847.8 819.1,857.3 819.6,864C820.1,870.7 819.7,873.3 819.6,880C819.5,886.7 818.5,897.3 818.8,904C819.1,910.7 819.7,913.3 821.2,920C822.7,926.7 824.7,935.7 827.6,944C830.5,952.3 834.3,961.1 838.8,969.6C843.3,978.1 848.9,987.5 854.8,995.2C860.7,1002.9 867.3,1009.6 874,1016C880.7,1022.4 886.8,1028.3 894.8,1033.6C902.8,1038.9 912.7,1042.7 922,1048C931.3,1053.3 941.7,1059.7 950.8,1065.6C959.9,1071.5 967.9,1077.6 976.8,1083.2C985.7,1088.8 994.1,1093.6 1004,1099.2C1013.9,1104.8 1026.7,1112.3 1036,1116.8C1045.3,1121.3 1053.3,1124.5 1060,1126.4C1066.7,1128.3 1070.7,1128.5 1076,1128C1081.3,1127.5 1087.7,1125.9 1092,1123.2C1096.3,1120.5 1099.2,1116.5 1101.6,1112C1104,1107.5 1105.2,1100.8 1106.4,1096C1107.6,1091.2 1108.7,1091.2 1108.8,1083.2C1108.9,1075.2 1106.8,1055.7 1107.2,1048C1107.6,1040.3 1109.5,1040.3 1111.2,1036.8C1112.9,1033.3 1116.5,1031.7 1117.6,1027.2C1118.7,1022.7 1117.6,1012.5 1117.6,1009.6" stroke="#000" stroke-width="2.3" fill="none"/>
<path d="M781.8,817C781.6,820.4 779.8,832.8 780.5,837.5C781.2,842.2 784.2,842 786,845.5C787.8,849 790.1,853.4 791.5,858.5C792.9,863.6 793.7,869.1 794.2,876C794.8,882.9 794.7,896 794.8,900" stroke="#000" stroke-width="2.6" fill="none"/>
<path d="M1109.6,1084.8C1109.5,1080.7 1109,1066.1 1108.8,1060C1108.6,1053.9 1107.8,1052 1108.6,1048C1109.4,1044 1112.1,1039.5 1113.4,1036C1114.7,1032.5 1116,1031.3 1116.4,1027C1116.8,1022.7 1116.1,1012.8 1116,1010" stroke="#000" stroke-width="2.6" fill="none"/>
<path d="M789.5,899 C799,905 810,905 819,899" stroke="#aaa" stroke-width="1" fill="none"/>
<path d="M1109.6,1086.4 C1117,1090 1128,1090 1136,1083.2" stroke="#aaa" stroke-width="1" fill="none"/>
<path d="M885.2,1036.8 C880,1042 879,1050 883.2,1057.6" stroke="#aaa" stroke-width="1" fill="none"/>
<path d="M1034.4,1118.4 C1027,1124 1021,1131 1020.8,1139.2" stroke="#aaa" stroke-width="1" fill="none"/>
<ellipse cx="804.4" cy="931.2" rx="2.3" ry="2.3" stroke="none" stroke-width="0" fill="#000"/>
<ellipse cx="963.5" cy="1074.3" rx="15.7" ry="9.4" stroke="#000" stroke-width="2" fill="#fff"/>
<ellipse cx="963.5" cy="1075.9" rx="7.7" ry="4.8" stroke="#000" stroke-width="2" fill="none"/>
<path d="M947.8,1075 C947,1085 947,1095 948.5,1102 C951,1110 958,1113 966,1112" stroke="#000" stroke-width="2" fill="none"/>
<path d="M979,1076 C978,1081 972,1083 962,1087 C957,1089 956,1092 956,1097 C956,1103 959,1106 966,1111" stroke="#000" stroke-width="2" fill="none"/>
<path d="M1116,985.2 C1120,982 1123,981 1126,981.7 L1170.6,1007.6" stroke="#000" stroke-width="2.4" fill="none"/>
<path d="M1116,985.2 C1111,990 1110,998 1111.1,1002 C1113,1006 1116,1006.2 1117.4,1007.6" stroke="#000" stroke-width="2.4" fill="none"/>
<path d="M1125.8,1013.2 L1158,1030" stroke="#000" stroke-width="2.4" fill="none"/>
<path d="M1134.2,992.2 C1129,996 1127,1005 1128.6,1013.2" stroke="#000" stroke-width="2.4" fill="none"/>
<ellipse cx="1162.9" cy="1018.4" rx="9" ry="13" stroke="#000" stroke-width="3.4" fill="#fff" transform="rotate(25 1162.9 1018.4)"/>
<ellipse cx="1163.5" cy="1018.4" rx="5" ry="9" stroke="#000" stroke-width="1" fill="none" transform="rotate(25 1163.5 1018.4)"/>
<path d="M993.8,902.3 L997,901.4 L999.1,905.3 L996.6,907.5 L997.6,911 L1001.1,911.9 L1001.5,916.1 L998.2,916.8 L997.8,920.2 L1000.7,922.6 L999.4,926.4 L996,925.4 L994.2,928.1 L996.1,931.5 L993.3,934.1 L990.4,931.7 L987.7,933.2 L988.1,936.9 L984.4,937.8 L982.6,934.3 L979.4,934.3 L978.3,937.6 L974.4,936.6 L974.1,932.9 L971,931.3 L968.6,933.6 L965.3,930.9 L966.5,927.5 L964.2,924.7 L961,925.6 L958.9,921.7 L961.4,919.5 L960.4,916 L956.9,915.1 L956.5,910.9 L959.8,910.2 L960.2,906.8 L957.3,904.4 L958.6,900.6 L962,901.6 L963.8,898.9 L961.9,895.5 L964.7,892.9 L967.6,895.3 L970.3,893.8 L969.9,890.1 L973.6,889.2 L975.4,892.7 L978.6,892.7 L979.7,889.4 L983.6,890.4 L983.9,894.1 L987,895.7 L989.4,893.4 L992.7,896.1 L991.5,899.5Z" stroke="#000" stroke-width="1.5" fill="#000"/>
<line x1="961" y1="905" x2="967" y2="908.5" stroke="#fff" stroke-width="1.6"/>
<line x1="964" y1="897" x2="970" y2="900.5" stroke="#fff" stroke-width="1.6"/>
<line x1="970" y1="891" x2="976" y2="894.5" stroke="#fff" stroke-width="1.6"/>
<line x1="976" y1="889" x2="982" y2="892.5" stroke="#fff" stroke-width="1.6"/>
<line x1="960" y1="913" x2="966" y2="916.5" stroke="#fff" stroke-width="1.6"/>
<line x1="962" y1="921" x2="968" y2="924.5" stroke="#fff" stroke-width="1.6"/>
<path d="M997.5,908.5 L999.6,908.3 L1001.2,911.4 L999.9,913 L1000.8,915.9 L1002.9,916.7 L1003.3,920.1 L1001.3,920.7 L1001.1,923.5 L1002.9,925.2 L1002,928.2 L999.8,927.7 L998.5,929.9 L999.5,932.2 L997.4,934.2 L995.5,932.8 L993.3,933.9 L993.5,936.3 L990.7,937 L989.3,934.8 L986.8,934.6 L986,936.7 L982.9,935.8 L982.5,933.4 L980,932 L978.4,933.3 L975.8,931 L976.4,928.8 L974.5,926.5 L972.4,926.7 L970.8,923.6 L972.1,922 L971.2,919.1 L969.1,918.3 L968.7,914.9 L970.7,914.3 L970.9,911.5 L969.1,909.8 L970,906.8 L972.2,907.3 L973.5,905.1 L972.5,902.8 L974.6,900.8 L976.5,902.2 L978.7,901.1 L978.5,898.7 L981.3,898 L982.7,900.2 L985.2,900.4 L986,898.3 L989.1,899.2 L989.5,901.6 L992,903 L993.6,901.7 L996.2,904 L995.6,906.2Z" stroke="#000" stroke-width="1.6" fill="#fff"/>
<ellipse cx="987.7" cy="919" rx="8.5" ry="12.5" stroke="#000" stroke-width="1.8" fill="#fff" transform="rotate(-25 987.7 919)"/>
<ellipse cx="988.5" cy="919.5" rx="4.5" ry="7" stroke="#000" stroke-width="2.2" fill="#fff" transform="rotate(-25 988.5 919.5)"/>
<path d="M993,913 L1051,946.5" stroke="#000" stroke-width="2.2" fill="none"/>
<path d="M989,924 L1047,958" stroke="#000" stroke-width="2.2" fill="none"/>
<line x1="1016" y1="930" x2="1019" y2="925" stroke="#000" stroke-width="1.4"/>
<path d="M1024,933 L1040,942" stroke="#777" stroke-width="0.9" fill="none"/>
<path d="M1027,929 L1043,938" stroke="#777" stroke-width="0.9" fill="none"/>
<ellipse cx="1057.6" cy="957.5" rx="9.5" ry="12.5" stroke="#000" stroke-width="3" fill="#fff" transform="rotate(25 1057.6 957.5)"/>
<ellipse cx="1058.5" cy="957.5" rx="5" ry="8" stroke="#000" stroke-width="1.3" fill="none" transform="rotate(25 1058.5 957.5)"/>
<path d="M1188,1021.3C1189.5,1022 1195.1,1023.7 1196.7,1025.3C1198.3,1026.9 1197.8,1028.9 1197.5,1031C1197.2,1033.1 1196.2,1035.6 1194.7,1038C1193.2,1040.4 1190.9,1043.8 1188.7,1045.3C1186.5,1046.8 1183.1,1048.2 1181.3,1047.3C1179.5,1046.4 1178.2,1042.5 1178,1040C1177.8,1037.5 1179.3,1034.2 1180,1032C1180.7,1029.8 1181.7,1027.6 1182,1026.7" stroke="#000" stroke-width="3" fill="none"/>
<ellipse cx="1188" cy="1021.3" rx="2.6" ry="2.6" stroke="none" stroke-width="0" fill="#000"/>
<ellipse cx="1181.8" cy="1026.5" rx="2.6" ry="2.6" stroke="none" stroke-width="0" fill="#000"/>
<path d="M1190.7,1065.3 L1190.7,1050 C1192,1040 1196,1032 1202,1028 C1207,1025 1213,1024.5 1218,1026.7 C1222,1028.5 1224.5,1031.5 1226.7,1034.7" stroke="#000" stroke-width="2.2" fill="none"/>
<path d="M1226.7,1034.7 L1242,1032 C1248,1031 1253,1036 1252,1042 L1243.3,1063.3 C1241,1066 1238,1067 1235.3,1067.3" stroke="#000" stroke-width="2.2" fill="none"/>
<path d="M1198.7,1056.7 L1216.7,1040.7" stroke="#000" stroke-width="2.6" fill="none"/>
<path d="M1202,1067.3 L1220.7,1052.7" stroke="#000" stroke-width="2" fill="none"/>
<path d="M1190.7,1065.3 C1193,1069 1197,1072 1200,1074" stroke="#000" stroke-width="2.2" fill="none"/>
<path d="M1201.5,1072 L1218,1078" stroke="#000" stroke-width="2" fill="none"/>
<ellipse cx="1228" cy="1056" rx="10.8" ry="15.2" stroke="#000" stroke-width="3.4" fill="#fff" transform="rotate(28 1228 1056)"/>
<line x1="1226" y1="1050" x2="1245" y2="1062" stroke="#888" stroke-width="0.9"/>
<path d="M1200,1074 L1200,1099.3 L1234,1080.7 L1234,1070" stroke="#000" stroke-width="2.2" fill="#fff"/>
<path d="M1200,1074 L1215.3,1078 L1234,1070" stroke="#000" stroke-width="2" fill="none"/>
<line x1="1213.5" y1="1080" x2="1213.5" y2="1091" stroke="#aaa" stroke-width="0.9"/>
<line x1="1217" y1="1079" x2="1217" y2="1089" stroke="#aaa" stroke-width="0.9"/>
<ellipse cx="1212" cy="1032.7" rx="3" ry="2.2" stroke="none" stroke-width="0" fill="#000"/>
<ellipse cx="1245.3" cy="1044.7" rx="2.4" ry="2.8" stroke="none" stroke-width="0" fill="#000"/>
<ellipse cx="1208.7" cy="1066" rx="2.2" ry="2.8" stroke="none" stroke-width="0" fill="#000"/>
<ellipse cx="1207.3" cy="1083.3" rx="2.4" ry="3.2" stroke="none" stroke-width="0" fill="#000"/>
<line x1="1193" y1="1040" x2="1205" y2="1047" stroke="#888" stroke-width="0.9"/>
<ellipse cx="1331" cy="1117" rx="9" ry="11.5" stroke="#000" stroke-width="3" fill="#fff" transform="rotate(30 1331 1117)"/>
<ellipse cx="1331.5" cy="1117" rx="4.5" ry="7" stroke="#000" stroke-width="1.6" fill="none" transform="rotate(30 1331.5 1117)"/>
<ellipse cx="1348" cy="1128" rx="3.5" ry="6" stroke="#000" stroke-width="2.6" fill="none" transform="rotate(40 1348 1128)"/>
<path d="M1373.9,1137.6C1374.1,1137.4 1374.8,1136.6 1375.2,1136.2C1375.7,1135.8 1376.2,1135.4 1376.6,1135C1377.1,1134.7 1377.6,1134.4 1378.1,1134.1C1378.6,1133.8 1379,1133.6 1379.5,1133.4C1380,1133.2 1380.5,1133 1380.9,1132.9C1381.4,1132.8 1381.8,1132.8 1382.2,1132.7C1382.7,1132.7 1383.1,1132.8 1383.5,1132.8C1383.9,1132.9 1384.3,1133 1384.6,1133.2C1385,1133.3 1385.3,1133.6 1385.6,1133.8C1385.9,1134.1 1386.2,1134.3 1386.4,1134.7C1386.7,1135 1386.9,1135.4 1387.1,1135.8C1387.3,1136.2 1387.4,1136.6 1387.5,1137.1C1387.7,1137.5 1387.7,1138.1 1387.8,1138.6C1387.8,1139.1 1387.9,1139.6 1387.8,1140.2C1387.8,1140.8 1387.8,1141.4 1387.7,1142C1387.6,1142.6 1387.5,1143.2 1387.3,1143.8C1387.1,1144.4 1386.9,1145 1386.7,1145.6C1386.5,1146.3 1386.2,1146.9 1386,1147.5C1385.7,1148.1 1385.4,1148.7 1385,1149.3C1384.7,1149.9 1384.3,1150.5 1384,1151C1383.6,1151.6 1383.2,1152.2 1382.7,1152.7C1382.3,1153.2 1381.9,1153.7 1381.4,1154.1C1381,1154.6 1380.5,1155 1380.1,1155.4C1379.6,1155.8 1379.1,1156.2 1378.6,1156.5C1378.2,1156.8 1377.7,1157.1 1377.2,1157.3C1376.7,1157.5 1376.2,1157.7 1375.8,1157.9C1375.3,1158 1374.8,1158.1 1374.4,1158.2C1374,1158.3 1373.5,1158.3 1373.1,1158.3C1372.7,1158.2 1372.3,1158.1 1371.9,1158C1371.5,1157.9 1371.2,1157.7 1370.9,1157.5C1370.5,1157.3 1370.2,1157.1 1369.9,1156.8C1369.7,1156.5 1369.4,1156.2 1369.2,1155.8C1369,1155.4 1368.8,1155 1368.7,1154.6C1368.5,1154.1 1368.4,1153.7 1368.3,1153.2C1368.2,1152.7 1368.2,1152.2 1368.2,1151.6C1368.1,1151.1 1368.2,1150.5 1368.2,1149.9C1368.3,1149.3 1368.4,1148.7 1368.5,1148.1C1368.6,1147.5 1368.8,1146.9 1369,1146.3C1369.2,1145.7 1369.4,1145 1369.6,1144.4C1369.9,1143.8 1370.3,1142.9 1370.5,1142.6" stroke="#000" stroke-width="3" fill="none"/>
<path d="M761.5,678.1 L720.8,678.1 L655,706.7" stroke="#b0b0b0" stroke-width="1.7" fill="none"/>
<path d="M720.8,678.1 L710.4,740.5" stroke="#b0b0b0" stroke-width="1.7" fill="none"/>
<path d="M579.5,821.1 L616.8,821.1 L653.2,770.9" stroke="#b0b0b0" stroke-width="1.7" fill="none"/>
<path d="M637.7,897 L672,897 L791,926.5" stroke="#b0b0b0" stroke-width="1.7" fill="none"/>
<path d="M1098.7,835.2 L1062.3,835.2 L1004.4,918.8" stroke="#b0b0b0" stroke-width="1.7" fill="none"/>
<path d="M1169.6,891.2 L1130.4,891.2 L1068.8,946.8" stroke="#b0b0b0" stroke-width="1.7" fill="none"/>
<path d="M1280,959.6 L1242,959.6 L1197,1020" stroke="#b0b0b0" stroke-width="1.7" fill="none"/>
<path d="M1323,999.6 L1285,999.6 L1253,1036" stroke="#b0b0b0" stroke-width="1.7" fill="none"/>
<path d="M1436,1051 L1396,1051 L1338,1106" stroke="#b0b0b0" stroke-width="1.7" fill="none"/>
<path d="M1433,1098 L1395,1098 L1354,1122" stroke="#b0b0b0" stroke-width="1.7" fill="none"/>
<path d="M1439,1137 L1399,1137 L1390,1146" stroke="#b0b0b0" stroke-width="1.7" fill="none"/>
<path d="M14.8,0 C8,2 2.5,8 1,20.5 L0,34.5 C0,43 4,47.5 10,47.5 C17,47.5 21,42 21,34 L21,27.5 C21,22.5 18.5,20.5 14.7,20.5 L2.5,20.5" transform="matrix(0.5053 0 -0.1667 0.5053 737.42 650.00)" stroke="#555" stroke-width="2" fill="none" stroke-linecap="round" stroke-linejoin="round" vector-effect="non-scaling-stroke"/>
<path d="M0.7,9.6 C0.7,3.5 5,0 10.5,0 C16.5,0 20.7,3.8 20.7,9.5 C20.7,14.5 18,18.5 13.5,24 L0,47.5 L21.3,47.5" transform="matrix(0.5305 0 -0.1751 0.5305 595.62 792.50)" stroke="#555" stroke-width="2" fill="none" stroke-linecap="round" stroke-linejoin="round" vector-effect="non-scaling-stroke"/>
<path d="M0,12.5 L11,0 L11,47.5" transform="matrix(0.5326 0 -0.1758 0.5326 652.85 868.70)" stroke="#555" stroke-width="2" fill="none" stroke-linecap="round" stroke-linejoin="round" vector-effect="non-scaling-stroke"/>
<path d="M0,1.5 C2,0.5 5,0 8.9,0 C13.5,0 16,2.5 16,7 C16,14 12,20.6 7,20.6 C13,20.6 18.6,24 18.6,31 C18.6,40 15,47.5 9,47.5 L1,47.5" transform="matrix(0.5305 0 -0.1751 0.5305 1078.52 806.80)" stroke="#555" stroke-width="2" fill="none" stroke-linecap="round" stroke-linejoin="round" vector-effect="non-scaling-stroke"/>
<path d="M6.8,0 L0,35.5 L21.4,35.5 M14.2,24 L14.2,47.5" transform="matrix(0.5179 0 -0.1709 0.5179 1146.62 862.00)" stroke="#555" stroke-width="2" fill="none" stroke-linecap="round" stroke-linejoin="round" vector-effect="non-scaling-stroke"/>
<path d="M14.8,0 C8,2 2.5,8 1,20.5 L0,34.5 C0,43 4,47.5 10,47.5 C17,47.5 21,42 21,34 L21,27.5 C21,22.5 18.5,20.5 14.7,20.5 L2.5,20.5" transform="matrix(0.3789 0 -0.1251 0.3789 1255.34 938.00)" stroke="#555" stroke-width="2" fill="none" stroke-linecap="round" stroke-linejoin="round" vector-effect="non-scaling-stroke"/>
<path d="M0.7,9.6 C0.7,3.5 5,0 10.5,0 C16.5,0 20.7,3.8 20.7,9.5 C20.7,14.5 18,18.5 13.5,24 L0,47.5 L21.3,47.5" transform="matrix(0.5263 0 -0.1737 0.5263 1302.25 971.00)" stroke="#555" stroke-width="2" fill="none" stroke-linecap="round" stroke-linejoin="round" vector-effect="non-scaling-stroke"/>
<path d="M6.8,0 L0,35.5 L21.4,35.5 M14.2,24 L14.2,47.5" transform="matrix(0.5053 0 -0.1667 0.5053 1413.22 1022.00)" stroke="#555" stroke-width="2" fill="none" stroke-linecap="round" stroke-linejoin="round" vector-effect="non-scaling-stroke"/>
<path d="M18,0 L0,0 L0.3,20 C3,18.7 6,18.2 9,18.2 C14.5,18.2 17.6,21.5 17.6,27.5 C17.6,35.5 15,41 10.5,45 C9,46.5 7,47.5 5,47.5 L0,47.5" transform="matrix(0.5474 0 -0.1806 0.5474 1414.58 1069.00)" stroke="#555" stroke-width="2" fill="none" stroke-linecap="round" stroke-linejoin="round" vector-effect="non-scaling-stroke"/>
<path d="M0.3,6.5 L0.3,0.5 L23.7,0.5 C18,16 14.5,31 12.6,47.5" transform="matrix(0.5053 0 -0.1667 0.5053 1415.52 1108.00)" stroke="#555" stroke-width="2" fill="none" stroke-linecap="round" stroke-linejoin="round" vector-effect="non-scaling-stroke"/>
<path d="M0,-3.3 Q-6.5,24 -0.5,50.5" transform="matrix(0.4316 0 -0.1554 0.4316 762.38 649.50)" stroke="#000" stroke-width="3" fill="none" stroke-linecap="round" stroke-linejoin="round" vector-effect="non-scaling-stroke"/>
<path d="M0,12.5 L11,0 L11,47.5" transform="matrix(0.4316 0 -0.1554 0.4316 770.38 649.50)" stroke="#000" stroke-width="3" fill="none" stroke-linecap="round" stroke-linejoin="round" vector-effect="non-scaling-stroke"/>
<path d="M0,12.5 L11,0 L11,47.5" transform="matrix(0.4316 0 -0.1554 0.4316 781.58 649.50)" stroke="#000" stroke-width="3" fill="none" stroke-linecap="round" stroke-linejoin="round" vector-effect="non-scaling-stroke"/>
<path d="M0,-3.3 Q8.5,24 -0.5,50.5" transform="matrix(0.4316 0 -0.1554 0.4316 793.68 649.50)" stroke="#000" stroke-width="3" fill="none" stroke-linecap="round" stroke-linejoin="round" vector-effect="non-scaling-stroke"/>
<path d="M0,-3.3 Q-6.5,24 -0.5,50.5" transform="matrix(0.4568 0 -0.1645 0.4568 1171.31 861.00)" stroke="#000" stroke-width="3" fill="none" stroke-linecap="round" stroke-linejoin="round" vector-effect="non-scaling-stroke"/>
<path d="M0,12.5 L11,0 L11,47.5" transform="matrix(0.4568 0 -0.1645 0.4568 1179.01 861.00)" stroke="#000" stroke-width="3" fill="none" stroke-linecap="round" stroke-linejoin="round" vector-effect="non-scaling-stroke"/>
<path d="M10.5,0 C17.5,0 21,5 21,13 L21,34.5 C21,42.5 17.5,47.5 10.5,47.5 C3.5,47.5 0,42.5 0,34.5 L0,13 C0,5 3.5,0 10.5,0 Z" transform="matrix(0.4568 0 -0.1645 0.4568 1189.31 861.00)" stroke="#000" stroke-width="3" fill="none" stroke-linecap="round" stroke-linejoin="round" vector-effect="non-scaling-stroke"/>
<path d="M0,-3.3 Q8.5,24 -0.5,50.5" transform="matrix(0.4568 0 -0.1645 0.4568 1204.81 861.00)" stroke="#000" stroke-width="3" fill="none" stroke-linecap="round" stroke-linejoin="round" vector-effect="non-scaling-stroke"/>
<path d="M0,-3.3 Q-6.5,24 -0.5,50.5" transform="matrix(0.4316 0 -0.1554 0.4316 1280.38 930.00)" stroke="#000" stroke-width="3" fill="none" stroke-linecap="round" stroke-linejoin="round" vector-effect="non-scaling-stroke"/>
<path d="M0,12.5 L11,0 L11,47.5" transform="matrix(0.4316 0 -0.1554 0.4316 1288.38 930.00)" stroke="#000" stroke-width="3" fill="none" stroke-linecap="round" stroke-linejoin="round" vector-effect="non-scaling-stroke"/>
<path d="M0,12.5 L11,0 L11,47.5" transform="matrix(0.4316 0 -0.1554 0.4316 1299.58 930.00)" stroke="#000" stroke-width="3" fill="none" stroke-linecap="round" stroke-linejoin="round" vector-effect="non-scaling-stroke"/>
<path d="M0,-3.3 Q8.5,24 -0.5,50.5" transform="matrix(0.4316 0 -0.1554 0.4316 1311.68 930.00)" stroke="#000" stroke-width="3" fill="none" stroke-linecap="round" stroke-linejoin="round" vector-effect="non-scaling-stroke"/>
<path d="M0,-3.3 Q-6.5,24 -0.5,50.5" transform="matrix(0.4358 0 -0.1569 0.4358 1439.95 1021.30)" stroke="#000" stroke-width="3" fill="none" stroke-linecap="round" stroke-linejoin="round" vector-effect="non-scaling-stroke"/>
<path d="M0,12.5 L11,0 L11,47.5" transform="matrix(0.4358 0 -0.1569 0.4358 1446.95 1021.30)" stroke="#000" stroke-width="3" fill="none" stroke-linecap="round" stroke-linejoin="round" vector-effect="non-scaling-stroke"/>
<path d="M10.5,0 C17.5,0 21,5 21,13 L21,34.5 C21,42.5 17.5,47.5 10.5,47.5 C3.5,47.5 0,42.5 0,34.5 L0,13 C0,5 3.5,0 10.5,0 Z" transform="matrix(0.4358 0 -0.1569 0.4358 1458.45 1021.30)" stroke="#000" stroke-width="3" fill="none" stroke-linecap="round" stroke-linejoin="round" vector-effect="non-scaling-stroke"/>
<path d="M0,-3.3 Q8.5,24 -0.5,50.5" transform="matrix(0.4358 0 -0.1569 0.4358 1474.45 1021.30)" stroke="#000" stroke-width="3" fill="none" stroke-linecap="round" stroke-linejoin="round" vector-effect="non-scaling-stroke"/>
<rect x="31" y="1406" width="215.5" height="60" fill="#807f84"/>
<path d="M66.6,1417 L85.4,1436 L66.6,1454.8 L56.8,1445 L56.8,1427 Z" fill="#fff"/>
<path d="M56,1426.6 L69,1426.6 C75,1426.6 76.5,1430 76,1432.5 C75.5,1434.5 74,1435.5 73.5,1436 C74,1436.5 75.5,1437.5 76,1439.5 C76.5,1442 75,1445.6 69,1445.6 L56,1445.6 Z" fill="#807f84"/>
<rect x="46.8" y="1431" width="22" height="3.3" rx="1.6" fill="#fff"/>
<rect x="46.8" y="1438" width="22" height="3.3" rx="1.6" fill="#fff"/>
<path d="M98,1422 L120,1422 Q124,1422 124,1426 L124,1445 Q124,1449 120,1449 L98,1449 L93.5,1442 L115.5,1442 L115.5,1439.5 L103.5,1439.5 L103.5,1434 L115.5,1434 L115.5,1429.5 L93.5,1429.5 Z" fill="#fff" fill-rule="evenodd"/>
<path d="M127.5,1422 L135,1422 L135,1428 Q135,1434 141,1434 L151,1434 L151,1422 L158.5,1422 L158.5,1445 Q158.5,1449 154.5,1449 L128.5,1449 L128.5,1442.2 L151,1442.2 L151,1440 L138,1440 Q127.5,1440 127.5,1431 Z" fill="#fff" fill-rule="evenodd"/>
<path d="M164,1422 L193.5,1422 L193.5,1429.5 L172,1429.5 L172,1434 L189,1434 Q195.5,1434 195.5,1440 L195.5,1443 Q195.5,1449 189,1449 L164,1449 Z M172,1439.5 L172,1442 L187,1442 L187,1439.5 Z" fill="#fff" fill-rule="evenodd"/>
<path d="M199,1422 L225,1422 Q231,1422 231,1428 L231,1433.5 Q231,1439.5 225,1439.5 L208,1439.5 L208,1449 L199,1449 Z M208,1429.5 L208,1433 L222.5,1433 L222.5,1429.5 Z" fill="#fff" fill-rule="evenodd"/>
<text x="289" y="1451.5" font-family="Liberation Sans" font-size="36" fill="#000" stroke="#000" stroke-width="0.45" textLength="159.5" lengthAdjust="spacingAndGlyphs">БМЧ-140.</text>
<text x="455" y="1451.5" font-family="Liberation Sans" font-size="34.5" fill="#000" stroke="#fff" stroke-width="0.7" textLength="627" lengthAdjust="spacingAndGlyphs">Схема 3-3 (Схема-состав. Бетоносмеситель)</text>
</svg>
</body></html>
